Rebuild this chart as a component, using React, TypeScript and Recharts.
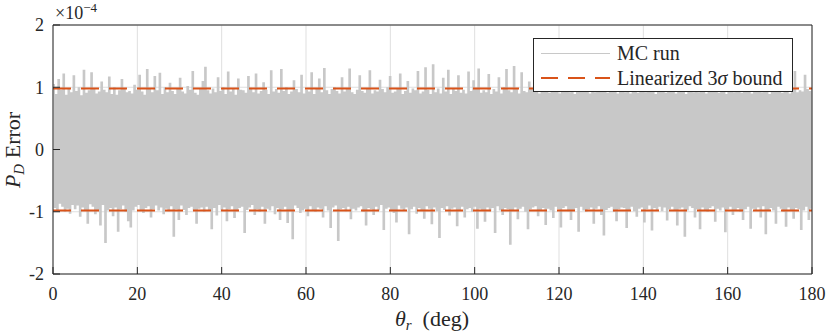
import React from 'react';
import { LineChart, Line, XAxis, YAxis, CartesianGrid } from 'recharts';

// P_D error of the MC run, in units of 1e-6, one sample every THETA_STEP deg
const MC_RUN = [
  104, -93, 88, -97, 112, -86, 95, -91, 121, -99, 87, -94, 96, -102, 91, -88, 118, -95, 93, -89, 99, -107, 86, -92, 127, -96, 90, -118, 94, -87,
  123, -91, 97, -103, 89, -96, 92, -121, 108, -88, 95, -149, 91, -97, 116, -93, 88, -106, 99, -92, 87, -131, 94, -95, 112, -89, 96, -99, 91, -114,
  93, -124, 89, -97, 103, -91, 95, -88, 119, -96, 92, -101, 87, -93, 128, -90, 96, -108, 91, -95, 117, -89, 94, -97, 122, -92, 88, -103, 99, -94,
  91, -98, 106, -90, 93, -139, 88, -95, 97, -112, 114, -89, 92, -96, 89, -104, 101, -93, 95, -91, 125, -97, 90, -118, 87, -94, 96, -92, 109, -99,
  132, -91, 94, -96, 89, -127, 97, -93, 91, -105, 115, -88, 93, -97, 99, -92, 88, -114, 124, -95, 92, -90, 96, -109, 87, -98, 113, -93, 95, -91,
  94, -133, 90, -96, 117, -92, 98, -88, 91, -104, 121, -95, 89, -99, 93, -91, 107, -118, 95, -94, 88, -97, 126, -90, 92, -103, 96, -93, 90, -112,
  128, -95, 93, -91, 99, -117, 88, -96, 92, -143, 110, -89, 96, -93, 91, -101, 119, -97, 89, -94, 95, -106, 92, -90, 123, -96, 88, -99, 97, -92,
  113, -94, 91, -108, 130, -90, 94, -97, 88, -125, 96, -92, 99, -89, 93, -146, 89, -95, 115, -93, 92, -98, 96, -91, 129, -111, 91, -94, 88, -97,
  95, -92, 118, -90, 93, -99, 90, -121, 97, -93, 126, -95, 89, -104, 94, -91, 92, -97, 111, -88, 96, -128, 91, -94, 99, -92, 117, -96, 90, -101,
  92, -116, 96, -89, 121, -94, 88, -97, 93, -92, 109, -135, 90, -95, 97, -91, 94, -102, 125, -93, 89, -96, 92, -110, 131, -90, 95, -94, 88, -119,
  136, -92, 91, -98, 97, -141, 89, -93, 114, -96, 92, -90, 127, -105, 88, -94, 96, -92, 93, -122, 118, -97, 90, -91, 95, -108, 89, -95, 124, -93,
  93, -99, 110, -91, 97, -126, 129, -94, 90, -96, 94, -115, 91, -92, 120, -98, 88, -93, 96, -133, 92, -90, 115, -97, 89, -104, 99, -93, 128, -95,
  94, -152, 91, -96, 133, -92, 96, -111, 89, -94, 123, -91, 93, -99, 91, -127, 108, -95, 97, -92, 136, -90, 92, -106, 89, -97, 117, -93, 95, -120,
  121, -94, 90, -97, 96, -109, 130, -91, 92, -95, 89, -124, 99, -93, 115, -90, 94, -98, 91, -112, 126, -96, 88, -93, 97, -131, 93, -91, 119, -97,
  92, -99, 125, -95, 89, -92, 96, -118, 91, -94, 113, -90, 97, -104, 93, -137, 120, -96, 90, -93, 95, -91, 128, -99, 92, -114, 89, -95, 97, -92,
  118, -93, 91, -125, 94, -96, 89, -91, 127, -98, 95, -107, 90, -94, 122, -92, 97, -116, 91, -95, 109, -89, 93, -129, 96, -93, 88, -97, 124, -91,
  93, -98, 119, -92, 90, -113, 97, -95, 131, -91, 92, -96, 89, -121, 110, -94, 95, -92, 93, -139, 88, -97, 126, -90, 96, -93, 91, -108, 117, -95,
  91, -127, 94, -92, 122, -96, 89, -99, 97, -93, 134, -90, 92, -115, 95, -94, 90, -97, 119, -92, 93, -132, 88, -95, 96, -91, 127, -104, 91, -96,
  123, -93, 96, -99, 90, -112, 93, -95, 118, -91, 97, -126, 89, -94, 92, -97, 129, -92, 95, -108, 91, -90, 114, -135, 94, -96, 88, -93, 121, -97,
  92, -118, 96, -91, 132, -94, 90, -99, 93, -123, 116, -92, 89, -96, 97, -110, 125, -93, 91, -95, 94, -128, 92, -97, 119, -91, 96, -112, 93, -94, 96,
];
const THETA_STEP = 0.3;

// linearized 3-sigma bound, x1e-4
const BOUND_THETA = [0, 180];
const BOUND_UPPER = [0.98, 0.98];
const BOUND_LOWER = [-0.98, -0.98];

const X_TICKS = [0, 20, 40, 60, 80, 100, 120, 140, 160, 180];
const Y_TICKS = [-2, -1, 0, 1, 2];

const mcData = MC_RUN.map((v, i) => ({ theta: Math.round(i * THETA_STEP * 10) / 10, err: v / 100 }));
const upperData = BOUND_THETA.map((t, i) => ({ theta: t, err: BOUND_UPPER[i] }));
const lowerData = BOUND_THETA.map((t, i) => ({ theta: t, err: BOUND_LOWER[i] }));

const FONT = '"Liberation Serif", "Times New Roman", serif';
const AXIS = '#262626';
const GREY = '#c8c8c8';
const ORANGE = '#D95319';

export default function App() {
  const tickStyle = { fill: AXIS, fontSize: 18, fontFamily: FONT };
  return (
    <div style={{ position: 'absolute', left: 0, top: 0, width: 830, height: 336, background: '#fff' }}>
      <LineChart width={830} height={336} margin={{ top: 24, right: 17, bottom: 22, left: 8 }}>
        <CartesianGrid stroke="#dfdfdf" />
        <Line data={mcData} dataKey="err" type="stepAfter" stroke={GREY} strokeWidth={1.4} dot={false} activeDot={false} isAnimationActive={false} />
        <Line data={upperData} dataKey="err" stroke={ORANGE} strokeWidth={2} strokeDasharray="18 10" dot={false} activeDot={false} isAnimationActive={false} />
        <Line data={lowerData} dataKey="err" stroke={ORANGE} strokeWidth={2} strokeDasharray="18 10" dot={false} activeDot={false} isAnimationActive={false} />
        <XAxis
          dataKey="theta"
          type="number"
          domain={[0, 180]}
          ticks={X_TICKS}
          allowDataOverflow
          height={40}
          stroke={AXIS}
          tickSize={-7}
          tickMargin={20}
          tick={tickStyle}
        />
        <XAxis xAxisId="top" orientation="top" dataKey="theta" type="number" domain={[0, 180]} ticks={X_TICKS} height={1} stroke={AXIS} tickSize={-7} tick={false} />
        <YAxis
          type="number"
          domain={[-2, 2]}
          ticks={Y_TICKS}
          width={45}
          stroke={AXIS}
          tickSize={-7}
          tickMargin={16}
          tick={tickStyle}
          tickFormatter={(v) => String(v)}
        />
        <YAxis yAxisId="right" orientation="right" type="number" domain={[-2, 2]} ticks={Y_TICKS} width={1} stroke={AXIS} tickSize={-7} tick={false} />
      </LineChart>

      {/* labels, exponent and legend */}
      <svg width={830} height={336} style={{ position: 'absolute', left: 0, top: 0, pointerEvents: 'none' }} fontFamily={FONT} fill={AXIS}>
        <text x={55} y={19} fontSize={18}>
          ×10<tspan dy={-7} fontSize={13}>−4</tspan>
        </text>
        <text x={20} y={150} fontSize={22} textAnchor="middle" transform="rotate(-90 20 150)">
          <tspan fontStyle="italic">P</tspan>
          <tspan fontStyle="italic" fontSize={15} dy={4}>D</tspan>
          <tspan dy={-4}> Error</tspan>
        </text>
        <text x={432} y={326} fontSize={22} textAnchor="middle">
          <tspan fontStyle="italic">θ</tspan>
          <tspan fontStyle="italic" fontSize={15} dy={4}>r</tspan>
          <tspan dy={-4}>{'\u00a0\u00a0(deg)'}</tspan>
        </text>

        <rect x={533.5} y={38.5} width={259} height={53} fill="#fff" stroke={AXIS} strokeWidth={1} />
        <line x1={541} x2={610} y1={53.5} y2={53.5} stroke={GREY} strokeWidth={1} />
        <text x={617} y={60} fontSize={20}>MC run</text>
        <line x1={541} x2={610} y1={78} y2={78} stroke={ORANGE} strokeWidth={2} strokeDasharray="17 10" />
        <text x={617} y={85} fontSize={20}>
          Linearized 3<tspan fontStyle="italic">σ</tspan> bound
        </text>
      </svg>
    </div>
  );
}
